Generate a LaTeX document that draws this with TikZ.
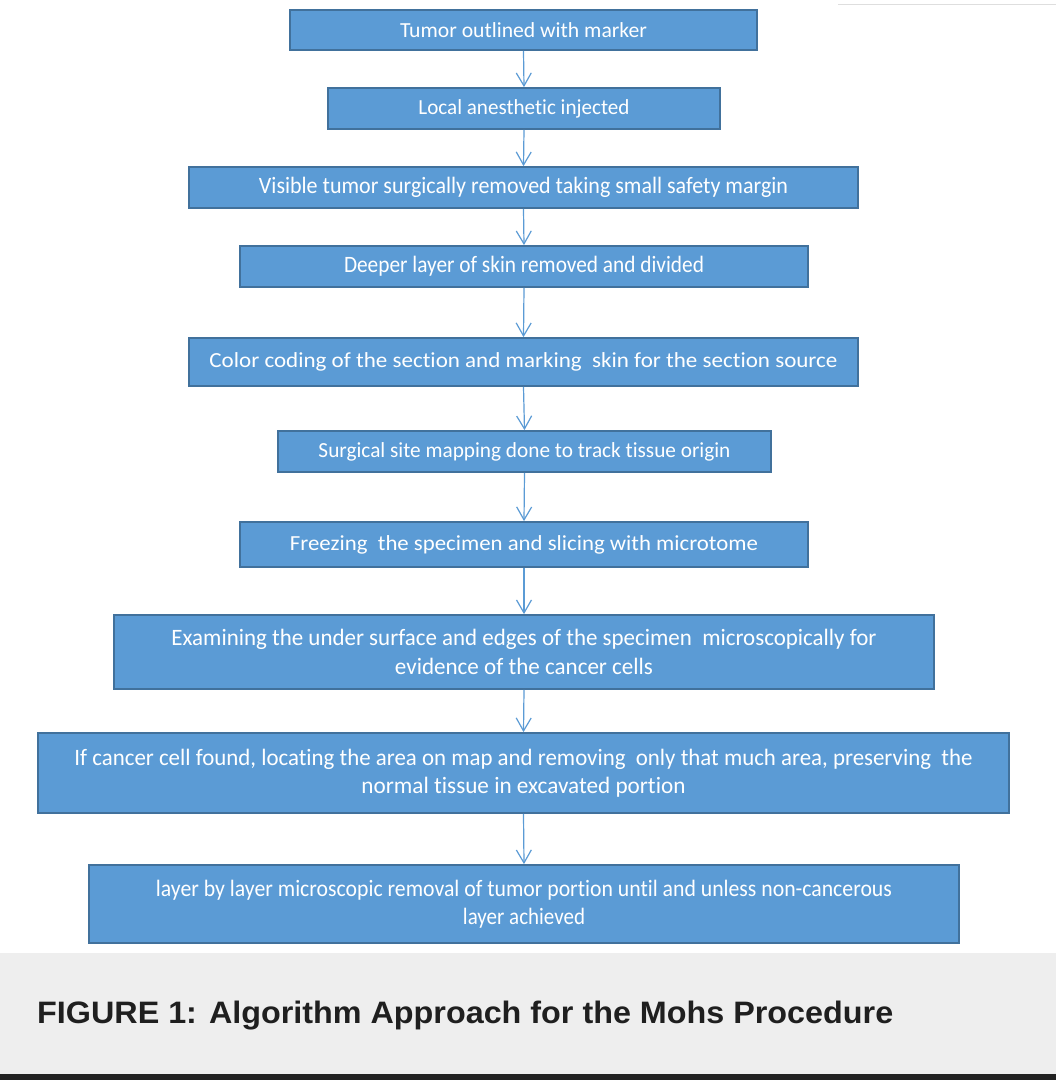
\documentclass[tikz,border=0pt]{standalone}
\usepackage{fontspec}
\usepackage{graphicx}
\setmainfont[Ligatures=NoCommon]{Carlito}
\newfontfamily\capfont{Liberation Sans}
\usetikzlibrary{arrows.meta}
\definecolor{boxfill}{HTML}{5B9BD5}
\definecolor{boxdraw}{HTML}{41719C}
\definecolor{bandcol}{HTML}{EEEEEE}
\definecolor{barcol}{HTML}{222222}
\newcommand{\fitw}[2]{\resizebox{#1pt}{\height}{#2}}
\begin{document}
\begin{tikzpicture}[x=1pt,y=-1pt,
  stepbox/.style={rectangle, fill=boxfill, draw=boxdraw, line width=1.8pt, inner sep=0pt,
    text=white, font=\fontsize{21.5}{28.5}\selectfont, align=center},
  condbox/.style={stepbox, font=\fontsize{23.5}{28.5}\selectfont},
  flow/.style={draw=boxfill, line width=1.2pt, -{Straight Barb[length=13pt,width=15pt]}}]
\useasboundingbox (0,0) rectangle (1056,1080);
\fill[white] (0,0) rectangle (1056,1080);
\draw[black!13, line width=1pt] (838,4) -- (1056,4);

\node[stepbox, minimum width=467pt, minimum height=40pt] (n1) at (523.5,30)
  {\fitw{247}{Tumor outlined with marker}};
\node[stepbox, minimum width=392pt, minimum height=41pt] (n2) at (524,108.5)
  {\fitw{211}{Local anesthetic injected}};
\node[condbox, minimum width=669pt, minimum height=41pt] (n3) at (523.5,187.5)
  {\fitw{529}{Visible tumor surgically removed taking small safety margin}};
\node[condbox, minimum width=568pt, minimum height=41pt] (n4) at (524,266.5)
  {\fitw{360}{Deeper layer of skin removed and divided}};
\node[stepbox, minimum width=669pt, minimum height=48pt] (n5) at (523.5,362)
  {\fitw{628}{Color coding of the section and marking\ \ skin for the section source}};
\node[stepbox, minimum width=493pt, minimum height=41pt] (n6) at (524.5,451.5)
  {\fitw{412}{Surgical site mapping done to track tissue origin}};
\node[stepbox, minimum width=568pt, minimum height=45pt] (n7) at (524,544.5)
  {\fitw{468}{Freezing\ \ the specimen and slicing with microtome}};
\node[condbox, minimum width=820pt, minimum height=74pt] (n8) at (524,652)
  {\fitw{705}{Examining the under surface and edges of the specimen\ \ microscopically for}\\
   \fitw{258}{evidence of the cancer cells}};
\node[condbox, minimum width=971pt, minimum height=80pt] (n9) at (523.5,773)
  {\fitw{898}{If cancer cell found, locating the area on map and removing\ \ only that much area, preserving\ \ the}\\
   \fitw{324}{normal tissue in excavated portion}};
\node[condbox, minimum width=870pt, minimum height=78pt] (n10) at (524,904)
  {\fitw{736}{layer by layer microscopic removal of tumor portion until and unless non-cancerous}\\
   \fitw{122}{layer achieved}};

\foreach \a/\b in {n1/n2,n2/n3,n3/n4,n4/n5,n5/n6,n6/n7,n7/n8,n8/n9,n9/n10}
  \draw[flow] (\a.south) -- (\b.north);

\fill[bandcol] (0,953) rectangle (1056,1074);
\fill[barcol] (0,1074) rectangle (1056,1080);
\node[anchor=west, inner sep=0pt, text=black!88,
  font=\capfont\bfseries\fontsize{31}{33}\selectfont] (cap) at (37,1016)
  {\fitw{856}{FIGURE 1: Algorithm Approach for the Mohs Procedure}};
\end{tikzpicture}
\end{document}
